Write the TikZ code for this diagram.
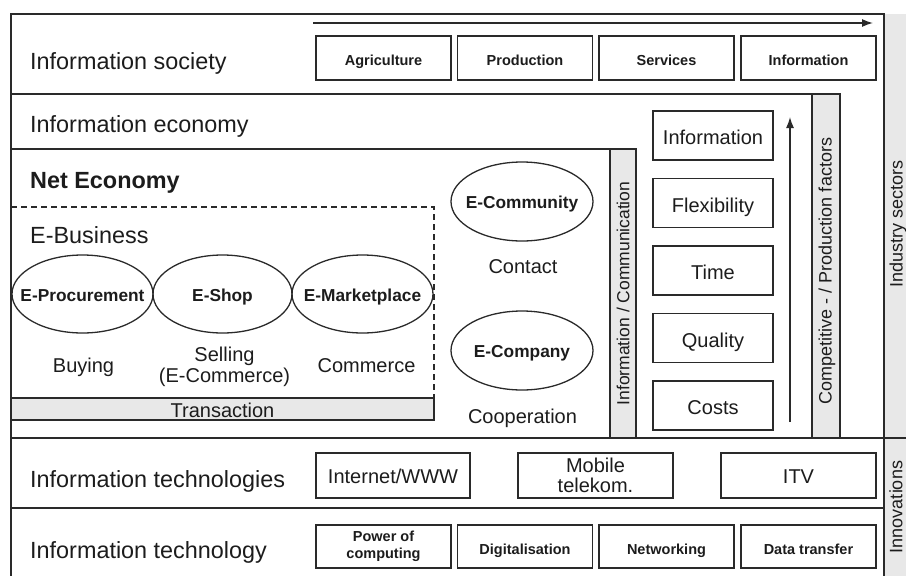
\documentclass[tikz,border=0pt]{standalone}
\usepackage{fontspec}
\setmainfont{Liberation Sans}
\usetikzlibrary{shapes.geometric,arrows.meta}
\definecolor{linec}{HTML}{2A2A2A}
\definecolor{bargrey}{HTML}{E8E8E8}
\definecolor{txt}{HTML}{1C1C1C}
\newcommand\fsrow{\fontsize{23.4}{28}\selectfont}
\newcommand\fsmid{\fontsize{20}{20}\selectfont}
\newcommand\fsell{\fontsize{17.3}{20}\selectfont}
\newcommand\fssmall{\fontsize{14.5}{16}\selectfont}
\newcommand\fsside{\fontsize{18}{20}\selectfont}
\newcommand\fsband{\fontsize{17.5}{20}\selectfont}
% text that does not widen the oval drawn around it
\newcommand\ovaltext[1]{\makebox[0pt][c]{#1}}

\begin{document}
\begin{tikzpicture}[x=1pt,y=-1pt,
  every node/.style={text=txt},
  frame/.style={draw=linec,line width=1.3pt},
  cell/.style={draw=linec,line width=1.3pt,rectangle,inner sep=0pt},
  oneline/.style={text height=#1,text depth=0pt},
  sector/.style={cell,minimum width=135pt,minimum height=44pt,font=\fssmall\bfseries},
  secone/.style={sector,oneline=15pt},
  factor/.style={cell,minimum width=120pt,minimum height=49pt,font=\fsmid,oneline=18pt},
  tech/.style={cell,minimum height=45pt,font=\fsmid},
  band/.style={cell,fill=bargrey,rotate=90},
  venture/.style={ellipse,draw=linec,line width=1.3pt,inner sep=0pt,
    minimum width=141pt,minimum height=78pt,font=\fsell\bfseries,oneline=14pt},
  rowlabel/.style={anchor=base west,font=\fsrow,inner sep=0pt},
  note/.style={anchor=base,font=\fsmid},
  sidelabel/.style={rotate=90,font=\fsside},
  flow/.style={draw=linec,line width=1.4pt,-{Latex[length=11pt,width=8pt]}},
]
\useasboundingbox (0,0) rectangle (906,576);

% side column
\fill[bargrey] (884,14) rectangle (906,576);

% outer frame and row separators
\draw[frame] (11,576) -- (11,14) -- (884,14) -- (884,576);
\draw[frame] (11,94) -- (812,94);
\draw[frame] (11,149) -- (610,149);
\draw[frame] (11,438) -- (906,438);
\draw[frame] (11,508) -- (884,508);

% side column labels
\node[sidelabel] (sectors) at (898,224) {Industry sectors};
\node[sidelabel] (innov) at (896,507) {Innovations};

% row titles
\node[rowlabel] (society) at (30,69) {Information society};
\node[rowlabel] (economy) at (30,132) {Information economy};
\node[rowlabel,font=\fsrow\bfseries] (neteco) at (30,188) {Net Economy};
\node[rowlabel] (techs) at (30,487) {Information technologies};
\node[rowlabel] (tech) at (30,558) {Information technology};

% sectors with development arrow
\coordinate (hfrom) at (313,23);
\coordinate (hto) at (873,23);
\draw[flow] (hfrom) -- (hto);
\node[secone] (agri) at (383.5,58) {Agriculture};
\node[secone] (prod) at (525,58) {Production};
\node[secone] (serv) at (666.5,58) {Services};
\node[secone] (info) at (808.5,58) {Information};

% vertical bands
\node[band,minimum width=289pt,minimum height=26pt,font=\fsband] (infocomm) at (623,293.5) {Information / Communication};
\node[band,minimum width=344pt,minimum height=28pt] (compet) at (826,266) {};
\node[sidelabel] (competlabel) at (827,271) {Competitive - / Production factors};

% competitive factors
\node[factor] (finfo) at (713,135.5) {Information};
\node[factor] (flex) at (713,203) {Flexibility};
\node[factor] (ftime) at (713,270.5) {Time};
\node[factor] (fqual) at (713,338) {Quality};
\node[factor] (fcost) at (713,405.5) {Costs};
\coordinate (vfrom) at (790,422);
\coordinate (vto) at (790,117);
\draw[flow] (vfrom) -- (vto);

% E-Business area
\draw[frame,dash pattern=on 6pt off 4pt] (11,207) -- (434,207) -- (434,398);
\node[rowlabel] (ebiz) at (30,243) {E-Business};
\node[cell,fill=bargrey,minimum width=423pt,minimum height=22pt,font=\fsmid,oneline=16pt] (trans) at (222.5,409) {Transaction};
\node[venture] (eproc) at (82.5,294) {\ovaltext{E-Procurement}};
\node[venture,minimum width=139pt] (eshop) at (222.5,294) {\ovaltext{E-Shop}};
\node[venture] (emarket) at (362.5,294) {\ovaltext{E-Marketplace}};
\node[note] (buying) at (83.5,372) {Buying};
\node[font=\fsmid,align=center,text depth=0pt] (selling) at (224.5,365) {Selling\\[1pt](E-Commerce)};
\node[note] (commerce) at (366.5,372) {Commerce};

% community and company
\node[venture,minimum width=142pt,minimum height=79pt] (ecomm) at (522,201.5) {\ovaltext{E-Community}};
\node[note] (contact) at (523,273) {Contact};
\node[venture,minimum width=142pt,minimum height=79pt] (ecomp) at (522,350.5) {\ovaltext{E-Company}};
\node[note] (coop) at (522.5,423) {Cooperation};

% technologies
\node[tech,minimum width=154pt,oneline=16pt] (inet) at (393,475.5) {Internet/WWW};
\node[tech,minimum width=155pt,align=center] (mobile) at (595.5,475.5) {Mobile\\telekom.};
\node[tech,minimum width=155pt,oneline=16pt] (itv) at (798.5,475.5) {ITV};

% technology basics
\node[sector,minimum height=43pt,align=center,font=\fontsize{14.5}{17}\selectfont\bfseries] (power) at (383.5,546.5) {Power of\\computing};
\node[secone,minimum height=43pt] (digi) at (525,546.5) {Digitalisation};
\node[secone,minimum height=43pt] (netw) at (666.5,546.5) {Networking};
\node[secone,minimum height=43pt] (dtrans) at (808.5,546.5) {Data transfer};
\end{tikzpicture}
\end{document}
